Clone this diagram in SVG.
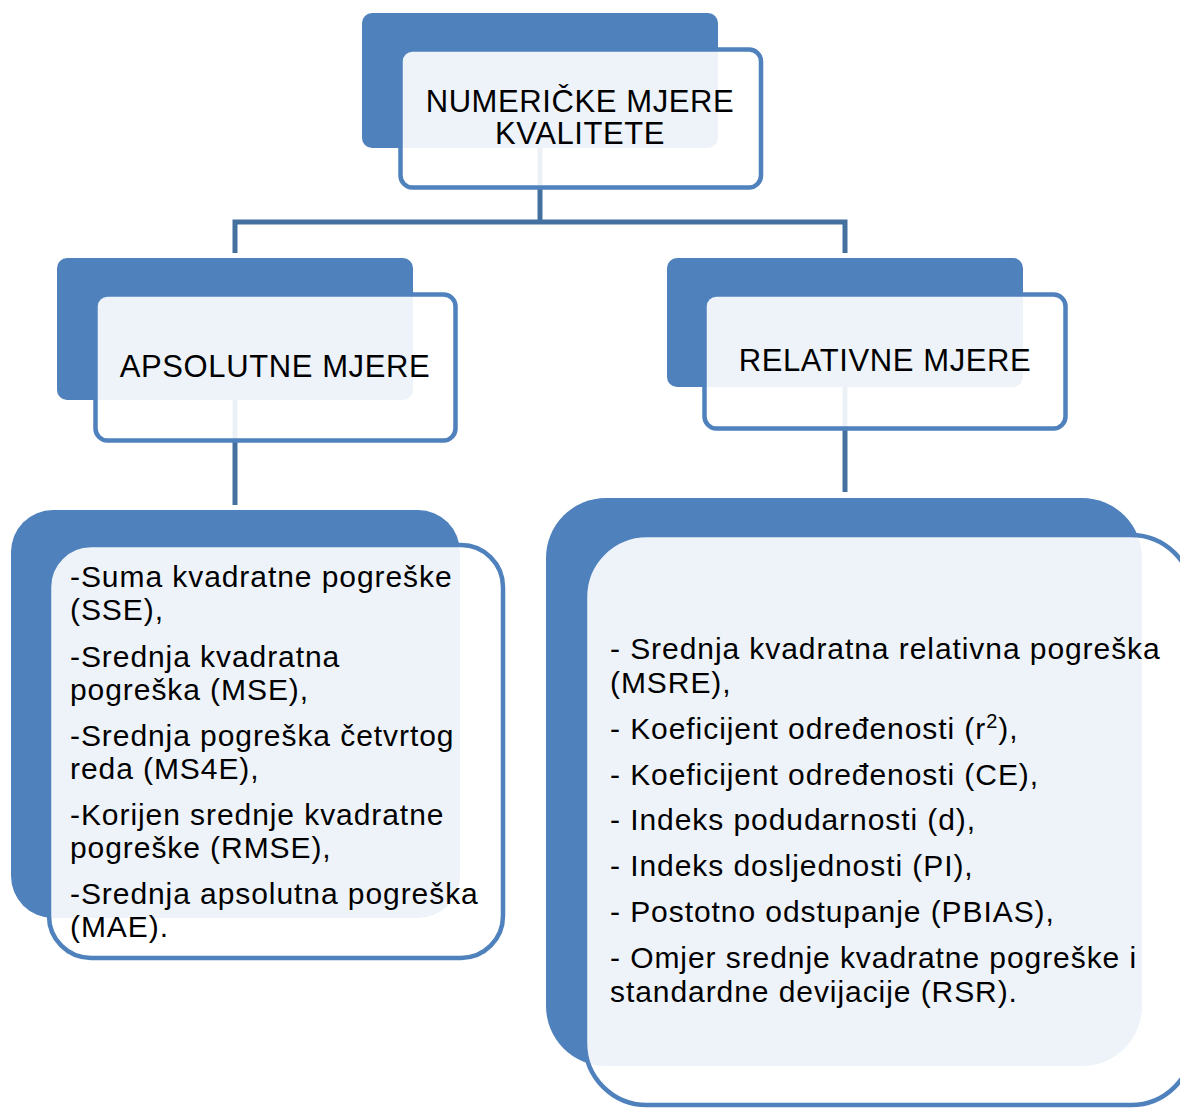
<svg xmlns="http://www.w3.org/2000/svg" width="1180" height="1109" viewBox="0 0 1180 1109">
<style>
.back{fill:#4F81BD}
.front{fill:#FFFFFF;fill-opacity:0.9;stroke:#4F81BD;stroke-width:4.5}
.conn{fill:none;stroke:#44709F;stroke-width:5}
.hdr{font-family:"Liberation Sans",Arial,sans-serif;font-size:31px;letter-spacing:0.6px;fill:#000;text-anchor:middle}
.lst{font-family:"Liberation Sans",Arial,sans-serif;font-size:30px;letter-spacing:0.93px;fill:#000}
</style>
<rect width="1180" height="1109" fill="#FFFFFF"/>
<g id="connectors">
<path class="conn" d="M540,140 V222"/>
<path class="conn" d="M235,253 V222 H845 V253"/>
<path class="conn" d="M235,395 V505"/>
<path class="conn" d="M845,380 V492"/>
</g>
<g id="node-root">
<rect class="back" x="362" y="13" width="356" height="135" rx="10"/>
<rect class="front" x="400.5" y="49.5" width="360.5" height="138" rx="12"/>
<text class="hdr" x="580" y="112">NUMERIČKE MJERE</text>
<text class="hdr" x="580" y="144">KVALITETE</text>
</g>
<g id="node-apsolutne">
<rect class="back" x="57" y="258" width="356" height="142" rx="10"/>
<rect class="front" x="95.5" y="294.5" width="360" height="146" rx="12"/>
<text class="hdr" x="275" y="377">APSOLUTNE MJERE</text>
</g>
<g id="node-relativne">
<rect class="back" x="667" y="258" width="356" height="129" rx="10"/>
<rect class="front" x="704.5" y="294.5" width="361" height="134" rx="12"/>
<text class="hdr" x="885" y="371">RELATIVNE MJERE</text>
</g>
<g id="node-apsolutne-list">
<rect class="back" x="11" y="510" width="449" height="408" rx="42"/>
<rect class="front" x="49" y="545" width="454" height="413" rx="42" stroke-width="4"/>
<text class="lst" x="70" y="587">-Suma kvadratne pogreške</text>
<text class="lst" x="70" y="620">(SSE),</text>
<text class="lst" x="70" y="667">-Srednja kvadratna</text>
<text class="lst" x="70" y="700">pogreška (MSE),</text>
<text class="lst" x="70" y="746">-Srednja pogreška četvrtog</text>
<text class="lst" x="70" y="779">reda (MS4E),</text>
<text class="lst" x="70" y="825">-Korijen srednje kvadratne</text>
<text class="lst" x="70" y="858">pogreške (RMSE),</text>
<text class="lst" x="70" y="904">-Srednja apsolutna pogreška</text>
<text class="lst" x="70" y="937">(MAE).</text>
</g>
<g id="node-relativne-list">
<rect class="back" x="546" y="498" width="596" height="568" rx="60"/>
<rect class="front" x="585" y="535" width="608" height="570" rx="62" stroke-width="4"/>
<text class="lst" x="610" y="659">- Srednja kvadratna relativna pogreška</text>
<text class="lst" x="610" y="693">(MSRE),</text>
<text class="lst" x="610" y="739">- Koeficijent određenosti (r<tspan font-size="20" dy="-11">2</tspan><tspan dy="11">),</tspan></text>
<text class="lst" x="610" y="785">- Koeficijent određenosti (CE),</text>
<text class="lst" x="610" y="830">- Indeks podudarnosti (d),</text>
<text class="lst" x="610" y="876">- Indeks dosljednosti (PI),</text>
<text class="lst" x="610" y="922">- Postotno odstupanje (PBIAS),</text>
<text class="lst" x="610" y="968">- Omjer srednje kvadratne pogreške i</text>
<text class="lst" x="610" y="1002">standardne devijacije (RSR).</text>
</g>
</svg>
